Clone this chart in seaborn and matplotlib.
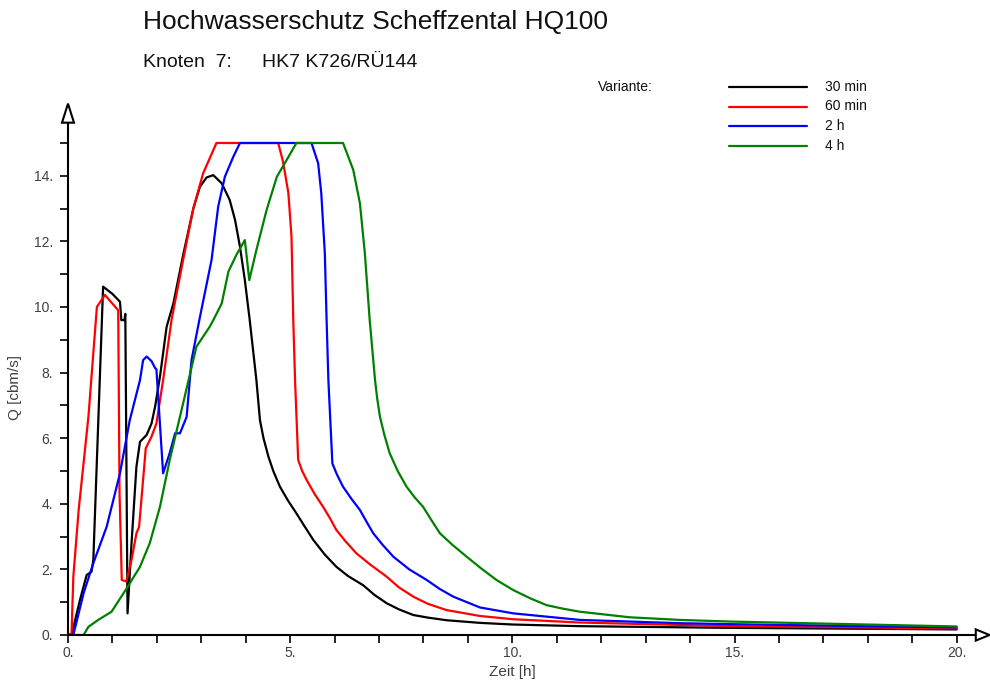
import matplotlib
matplotlib.use("Agg")
import matplotlib.pyplot as plt
from matplotlib.lines import Line2D
from matplotlib.patches import Polygon
import pandas as pd
import seaborn as sns

# Ganglinien je Variante (Zeit [h], Q [cbm/s])
t_30 = [0.0, 0.08, 0.27, 0.42, 0.53, 0.57, 0.79, 1.0, 1.17, 1.2, 1.27, 1.29, 1.34,
        1.43, 1.54, 1.62, 1.77, 1.88, 1.96, 2.07, 2.22, 2.37, 2.6, 2.82, 2.97, 3.12,
        3.27, 3.46, 3.64, 3.76, 3.87, 3.98, 4.09, 4.24, 4.32, 4.4, 4.51, 4.62, 4.77,
        4.95, 5.14, 5.33, 5.52, 5.78, 6.04, 6.3, 6.64, 6.9, 7.17, 7.45, 7.77, 8.1, 8.52,
        9.27, 10.0, 11.5, 14.7, 20.0]
q_30 = [0.0, 0.0, 1.07, 1.83, 1.93, 2.29, 10.62, 10.4, 10.16, 9.6, 9.6, 9.79, 0.66,
        2.8, 5.13, 5.89, 6.1, 6.45, 6.96, 7.88, 9.4, 10.1, 11.64, 13.0, 13.67, 13.95,
        14.02, 13.77, 13.26, 12.65, 11.84, 10.82, 9.6, 7.77, 6.55, 6.0, 5.44, 5.0, 4.52,
        4.1, 3.71, 3.3, 2.9, 2.45, 2.08, 1.8, 1.52, 1.22, 0.97, 0.78, 0.61, 0.53, 0.45,
        0.37, 0.32, 0.27, 0.22, 0.17]

t_60 = [0.0, 0.08, 0.12, 0.24, 0.46, 0.65, 0.83, 1.13, 1.16, 1.21, 1.31, 1.43, 1.54,
        1.6, 1.75, 1.88, 1.99, 2.14, 2.33, 2.59, 2.82, 3.04, 3.34, 4.73, 4.84, 4.96,
        5.03, 5.07, 5.11, 5.18, 5.27, 5.37, 5.55, 5.74, 5.9, 6.04, 6.25, 6.49, 6.8, 7.17,
        7.45, 7.77, 8.1, 8.52, 9.27, 10.02, 11.52, 14.9, 20.0]
q_60 = [0.0, 0.05, 1.78, 3.81, 6.66, 10.0, 10.37, 9.9, 4.32, 1.68, 1.63, 2.29, 3.1,
        3.3, 5.69, 6.05, 6.45, 7.77, 9.6, 11.43, 13.0, 14.07, 15.0, 15.0, 14.43, 13.47,
        12.14, 9.6, 7.77, 5.34, 5.0, 4.73, 4.3, 3.91, 3.55, 3.2, 2.85, 2.49, 2.15, 1.78,
        1.45, 1.17, 0.95, 0.76, 0.58, 0.48, 0.38, 0.27, 0.2]

t_2h = [0.0, 0.12, 0.35, 0.57, 0.87, 1.17, 1.39, 1.62, 1.69, 1.77, 1.88, 1.96, 1.99,
        2.14, 2.29, 2.41, 2.52, 2.67, 2.78, 2.97, 3.23, 3.38, 3.53, 3.72, 3.87, 5.48,
        5.63, 5.7, 5.78, 5.82, 5.86, 5.95, 6.05, 6.19, 6.38, 6.57, 6.72, 6.87, 7.08,
        7.32, 7.68, 8.07, 8.37, 8.67, 9.27, 10.02, 11.52, 13.77, 14.9, 20.0]
q_2h = [0.0, 0.0, 1.27, 2.19, 3.3, 4.93, 6.55, 7.77, 8.38, 8.49, 8.35, 8.14, 8.1,
        4.93, 5.55, 6.15, 6.15, 6.65, 8.38, 9.7, 11.43, 13.06, 13.97, 14.58, 15.0, 15.0,
        14.38, 13.47, 11.64, 9.6, 7.77, 5.23, 4.9, 4.52, 4.15, 3.81, 3.45, 3.1, 2.75,
        2.39, 2.0, 1.68, 1.4, 1.17, 0.84, 0.66, 0.46, 0.36, 0.33, 0.23]

t_4h = [0.0, 0.35, 0.46, 0.68, 0.98, 1.32, 1.62, 1.84, 2.07, 2.29, 2.59, 2.89, 3.19,
        3.27, 3.46, 3.61, 3.79, 3.98, 4.08, 4.24, 4.47, 4.7, 4.92, 5.14, 6.19, 6.42,
        6.57, 6.68, 6.79, 6.91, 6.96, 7.02, 7.12, 7.24, 7.42, 7.62, 7.8, 7.99, 8.18,
        8.37, 8.65, 8.97, 9.27, 9.64, 10.02, 10.4, 10.77, 11.15, 11.52, 12.64, 13.77,
        14.9, 20.0]
q_4h = [0.0, 0.0, 0.25, 0.46, 0.71, 1.42, 2.08, 2.8, 3.91, 5.34, 7.06, 8.79, 9.4,
        9.6, 10.11, 11.08, 11.59, 12.04, 10.82, 11.74, 12.96, 13.97, 14.48, 15.0, 15.0,
        14.18, 13.16, 11.65, 9.6, 7.77, 7.2, 6.66, 6.1, 5.54, 5.0, 4.52, 4.2, 3.91, 3.5,
        3.1, 2.75, 2.39, 2.06, 1.68, 1.37, 1.12, 0.91, 0.8, 0.71, 0.54, 0.46, 0.41, 0.26]

variants = ["30 min", "60 min", "2 h", "4 h"]
colors = ["#000000", "#ff0000", "#0000ff", "#008000"]

y_major = [0, 2, 4, 6, 8, 10, 12, 14]
y_minor = [1, 3, 5, 7, 9, 11, 13, 15]
x_major = [0, 5, 10, 15, 20]
x_minor = [h for h in range(21) if h % 5]

frames = []
for name, t, q in zip(variants, [t_30, t_60, t_2h, t_4h], [q_30, q_60, q_2h, q_4h]):
    frames.append(pd.DataFrame({"Zeit": t, "Q": q, "Variante": name}))
df = pd.concat(frames, ignore_index=True)

sns.set_theme(style="white")
plt.rcParams["font.family"] = ["Liberation Sans", "DejaVu Sans"]
narrow = ["Liberation Sans Narrow", "Liberation Sans", "DejaVu Sans"]
grey = "#404040"

fig = plt.figure(figsize=(9.9, 6.86), dpi=100)
ax = fig.add_axes([68 / 990, 51 / 686, 922 / 990, 533 / 686])

sns.lineplot(data=df, x="Zeit", y="Q", hue="Variante", palette=dict(zip(variants, colors)),
             estimator=None, sort=False, legend=False, linewidth=1.6, ax=ax)

ax.set_xlim(0, 20.75)
ax.set_ylim(0, 16.25)

# Achsen mit Pfeilspitzen
for side in ("top", "right"):
    ax.spines[side].set_visible(False)
for side in ("left", "bottom"):
    ax.spines[side].set_color("black")
    ax.spines[side].set_linewidth(1.5)
ax.spines["left"].set_bounds(0, 15.62)
ax.spines["bottom"].set_bounds(0, 20.43)
ax.add_patch(Polygon([[-0.135, 15.62], [0.135, 15.62], [0, 16.2]], closed=True,
                     facecolor="white", edgecolor="black", lw=1.5, clip_on=False, zorder=5))
ax.add_patch(Polygon([[20.43, -0.17], [20.43, 0.17], [20.74, 0]], closed=True,
                     facecolor="white", edgecolor="black", lw=1.5, clip_on=False, zorder=5))

ax.set_yticks(y_major)
ax.set_yticks(y_minor, minor=True)
ax.set_yticklabels([f"{v}." for v in y_major])
ax.set_xticks(x_major)
ax.set_xticks(x_minor, minor=True)
ax.set_xticklabels([f"{v}." for v in x_major])
ax.tick_params(which="both", direction="out", length=5.8, width=1.2, color="black",
               left=True, bottom=True)
ax.tick_params(axis="y", pad=5, labelsize=10, labelcolor=grey)
ax.tick_params(axis="x", pad=2, labelsize=10, labelcolor=grey)
for lab in ax.get_xticklabels() + ax.get_yticklabels():
    lab.set_family(narrow)
ax.set_xlabel("")
ax.set_ylabel("")
ax.grid(False)

fig.text(512 / 990, 1 - 672 / 686, "Zeit [h]", ha="center", va="center",
         fontsize=11, color=grey, family=narrow)
fig.text(15 / 990, 1 - 387 / 686, "Q [cbm/s]", ha="center", va="center",
         rotation=90, fontsize=11, color=grey, family=narrow)

# Titel
fig.text(143 / 990, 1 - 29 / 686, "Hochwasserschutz Scheffzental HQ100",
         ha="left", va="baseline", fontsize=19, color="#111111")
fig.text(143 / 990, 1 - 67 / 686, "Knoten  7:", ha="left", va="baseline",
         fontsize=14, color="#111111")
fig.text(262 / 990, 1 - 67 / 686, "HK7 K726/RÜ144", ha="left", va="baseline",
         fontsize=14, color="#111111")

# Legende
fig.text(598 / 990, 1 - 87 / 686, "Variante:", ha="left", va="center",
         fontsize=10, color="#111111")
for i, (name, col) in enumerate(zip(variants, colors)):
    yy = 1 - (87 + i * 19.5) / 686
    fig.add_artist(Line2D([729 / 990, 807 / 990], [yy, yy], color=col, lw=1.6,
                          transform=fig.transFigure))
    fig.text(825 / 990, yy, name, ha="left", va="center", fontsize=10, color="#111111")

fig.savefig("out.png", dpi=100)
